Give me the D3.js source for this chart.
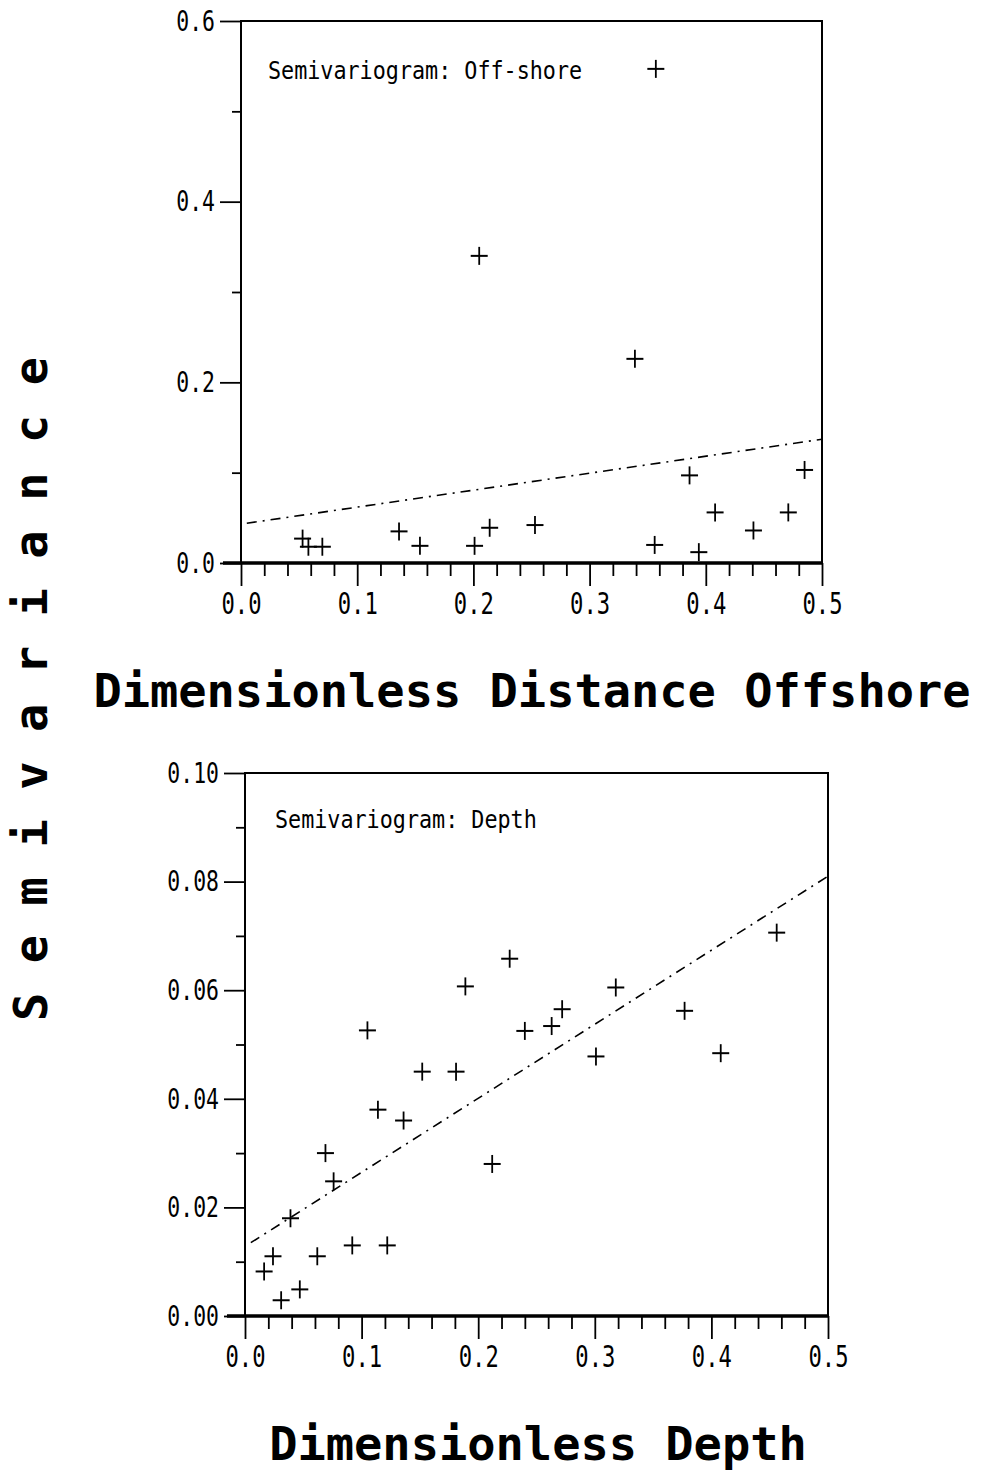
<!DOCTYPE html>
<html><head><meta charset="utf-8">
<script src="https://cdn.jsdelivr.net/npm/d3@7"></script>
<style>
html,body{margin:0;padding:0;background:#fff;}
svg{display:block;}
</style></head>
<body>
<svg id="chart" width="986" height="1478"></svg>
<script>
// ---- Data ----
const offX = [0.053,0.058,0.070,0.136,0.154,0.201,0.214,0.253,0.339,0.356,0.386,0.394,0.408,0.441,0.471,0.485,0.357,0.205];
const offY = [0.027,0.018,0.018,0.035,0.019,0.019,0.039,0.042,0.226,0.020,0.097,0.012,0.056,0.036,0.056,0.103,0.547,0.340];
const offFitX = [0.005,0.5];
const offFitY = [0.044,0.137];

const depX = [0.0164,0.024,0.031,0.039,0.047,0.062,0.069,0.076,0.092,0.105,0.114,0.122,0.136,0.152,0.181,0.189,0.212,0.227,0.240,0.263,0.272,0.301,0.318,0.377,0.408,0.456];
const depY = [0.0082,0.011,0.0029,0.018,0.0049,0.011,0.030,0.0248,0.013,0.0526,0.038,0.013,0.036,0.045,0.045,0.0607,0.028,0.0658,0.0525,0.0534,0.0565,0.0478,0.0605,0.0562,0.0484,0.0706];
const depFitX = [0.005,0.5];
const depFitY = [0.0135,0.081];

const xMajor = [0.0,0.1,0.2,0.3,0.4,0.5];
const xMajorLabels = ["0.0","0.1","0.2","0.3","0.4","0.5"];
const offYMajor = [0.0,0.2,0.4,0.6];
const offYLabels = ["0.0","0.2","0.4","0.6"];
const offYMinor = [0.1,0.3,0.5];
const depYMajor = [0.00,0.02,0.04,0.06,0.08,0.10];
const depYLabels = ["0.00","0.02","0.04","0.06","0.08","0.10"];
const depYMinor = [0.01,0.03,0.05,0.07,0.09];

const svg = d3.select("#chart");
const FONT = "'DejaVu Sans Mono', monospace";
const SX = 0.74;

function panel(cfg){
  const x = d3.scaleLinear().domain([0,0.5]).range([cfg.x0, cfg.x1]);
  const y = d3.scaleLinear().domain([0,cfg.yMax]).range([cfg.y0, cfg.y1]);
  const g = svg.append("g");

  // frame
  g.append("rect").attr("x",cfg.x0).attr("y",cfg.y1)
   .attr("width",cfg.x1-cfg.x0).attr("height",cfg.y0-cfg.y1)
   .attr("fill","none").attr("stroke","#000").attr("stroke-width",2);

  // x minor ticks
  const xMinor = d3.range(0,51,2).map(d=>d/100).filter(v=>!xMajor.some(m=>Math.abs(m-v)<1e-9));
  const axMin = g.append("g").attr("transform",`translate(0,${cfg.y0})`)
    .call(d3.axisBottom(x).tickValues(xMinor).tickSize(13).tickFormat(""));
  const axMaj = g.append("g").attr("transform",`translate(0,${cfg.y0})`)
    .call(d3.axisBottom(x).tickValues(xMajor).tickSize(23).tickPadding(7)
      .tickFormat((d,i)=>xMajorLabels[i]));
  [axMin,axMaj].forEach(a=>{
    a.select(".domain").attr("stroke-width",3).attr("d",`M${cfg.x0-18},0H${cfg.x1}`);
    a.selectAll(".tick line").attr("stroke","#000").attr("stroke-width",1.8);
  });
  axMaj.selectAll("text").attr("font-family",FONT).attr("font-size",30)
    .attr("fill","#000").attr("transform",`scale(${SX},1)`);

  // y ticks
  const ayMin = g.append("g").attr("transform",`translate(${cfg.x0},0)`)
    .call(d3.axisLeft(y).tickValues(cfg.yMinor).tickSize(9).tickFormat(""));
  const ayMaj = g.append("g").attr("transform",`translate(${cfg.x0},0)`)
    .call(d3.axisLeft(y).tickValues(cfg.yMajor).tickSize(21).tickPadding(5)
      .tickFormat((d,i)=>cfg.yLabels[i]));
  [ayMin,ayMaj].forEach(a=>{
    a.select(".domain").remove();
    a.selectAll(".tick line").attr("stroke","#000").attr("stroke-width",1.8);
  });
  ayMaj.selectAll("text").attr("font-family",FONT).attr("font-size",29)
    .attr("fill","#000").attr("x",-26/SX).attr("transform",`scale(${SX},1)`);

  // fit line
  const line = d3.line().x(d=>x(d[0])).y(d=>y(d[1]));
  g.append("path").datum(cfg.fitX.map((v,i)=>[v,cfg.fitY[i]]))
   .attr("d",line).attr("fill","none").attr("stroke","#000")
   .attr("stroke-width",1.6).attr("stroke-dasharray","10,6,2,6");

  // points
  const pts = cfg.px.map((v,i)=>[v,cfg.py[i]]);
  const mk = g.append("g").selectAll("g").data(pts).join("g")
    .attr("transform",d=>`translate(${x(d[0])},${y(d[1])})`);
  mk.append("line").attr("x1",-8.5).attr("x2",8.5).attr("y1",0).attr("y2",0)
    .attr("stroke","#000").attr("stroke-width",2);
  mk.append("line").attr("x1",0).attr("x2",0).attr("y1",-9).attr("y2",9)
    .attr("stroke","#000").attr("stroke-width",1.8);

  // inner title
  g.append("text").attr("font-family",FONT).attr("font-size",25)
   .attr("transform",`translate(${cfg.tx},${cfg.ty}) scale(0.87,1)`)
   .attr("fill","#000").text(cfg.title);
}

panel({x0:241,x1:822,y0:563,y1:21,yMax:0.6,
  yMajor:offYMajor,yLabels:offYLabels,yMinor:offYMinor,
  px:offX,py:offY,fitX:offFitX,fitY:offFitY,
  title:"Semivariogram: Off-shore",tx:268,ty:79});

panel({x0:245,x1:828,y0:1316,y1:773,yMax:0.10,
  yMajor:depYMajor,yLabels:depYLabels,yMinor:depYMinor,
  px:depX,py:depY,fitX:depFitX,fitY:depFitY,
  title:"Semivariogram: Depth",tx:275,ty:828});

// big axis titles
svg.append("text").attr("x",532).attr("y",707).attr("text-anchor","middle")
  .attr("font-family",FONT).attr("font-weight","bold").attr("font-size",47)
  .attr("fill","#000").text("Dimensionless Distance Offshore");
svg.append("text").attr("x",538).attr("y",1460).attr("text-anchor","middle")
  .attr("font-family",FONT).attr("font-weight","bold").attr("font-size",47)
  .attr("fill","#000").text("Dimensionless Depth");
svg.append("text").attr("transform","translate(47,1021) rotate(-90)")
  .attr("text-anchor","start").attr("letter-spacing",29.5)
  .attr("font-family",FONT).attr("font-weight","bold").attr("font-size",47)
  .attr("fill","#000").text("Semivariance");
</script>
</body></html>
